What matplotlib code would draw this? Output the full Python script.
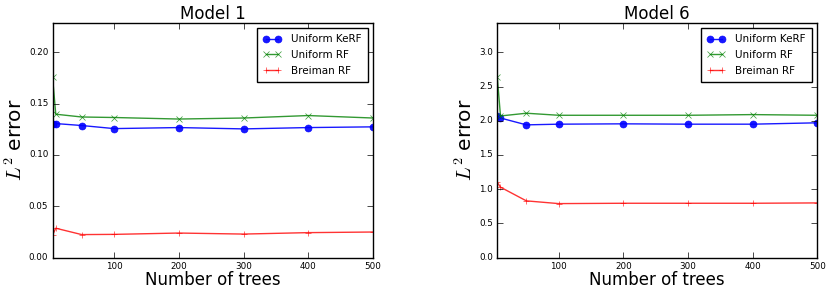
import matplotlib
matplotlib.use('Agg')
import matplotlib.pyplot as plt

plt.style.use('classic')
plt.rcParams['figure.facecolor'] = 'white'
plt.rcParams['savefig.facecolor'] = 'white'

# number of trees
trees = [5, 10, 50, 100, 200, 300, 400, 500]

# Model 1
m1_kerf = [0.130, 0.1306, 0.1287, 0.1257, 0.1267, 0.1254, 0.1267, 0.1274]
m1_unif = [0.176, 0.1397, 0.137, 0.1365, 0.135, 0.136, 0.1384, 0.136]
m1_breiman = [0.022, 0.0287, 0.0225, 0.0227, 0.024, 0.023, 0.0244, 0.025]

# Model 6
m6_kerf = [2.07, 2.04, 1.94, 1.95, 1.955, 1.95, 1.95, 1.97]
m6_unif = [2.64, 2.07, 2.11, 2.08, 2.08, 2.08, 2.09, 2.08]
m6_breiman = [1.10, 1.03, 0.83, 0.79, 0.795, 0.795, 0.795, 0.80]

titles = ['Model 1', 'Model 6']
series = [(m1_kerf, m1_unif, m1_breiman), (m6_kerf, m6_unif, m6_breiman)]

fig = plt.figure(figsize=(8.26, 2.93), dpi=100)
axes = [fig.add_axes([0.0636, 0.1205, 0.388, 0.802]),
        fig.add_axes([0.602, 0.1205, 0.3874, 0.802])]

for ax, title, (kerf, unif, brei) in zip(axes, titles, series):
    ax.plot(trees, kerf, 'b-o', lw=1, ms=5, mec='b', alpha=0.9, label='Uniform KeRF')
    ax.plot(trees, unif, 'g-x', lw=1, ms=5, mec='g', alpha=0.8, label='Uniform RF')
    ax.plot(trees, brei, 'r-+', lw=1, ms=5, mec='r', alpha=0.8, label='Breiman RF')
    top = max(unif) * 1.3
    ax.set_xlim(trees[0], trees[-1])
    ax.set_ylim(0, top)
    ax.set_xticks([100, 200, 300, 400, 500])
    ax.set_title(title, fontsize=12, pad=3)
    ax.set_xlabel('Number of trees', fontsize=12, labelpad=0)
    ax.set_ylabel(r'$L^2$ error', fontsize=14.5, labelpad=2)
    ax.tick_params(labelsize=6.3, pad=3)
    ax.legend(loc='upper right', fontsize=7.5, numpoints=2,
              handlelength=1.7, handletextpad=1.0, borderpad=0.6,
              labelspacing=0.55)

axes[0].yaxis.set_major_formatter(matplotlib.ticker.FormatStrFormatter('%.2f'))
axes[1].yaxis.set_major_formatter(matplotlib.ticker.FormatStrFormatter('%.1f'))

plt.savefig('out.png', dpi=100)
